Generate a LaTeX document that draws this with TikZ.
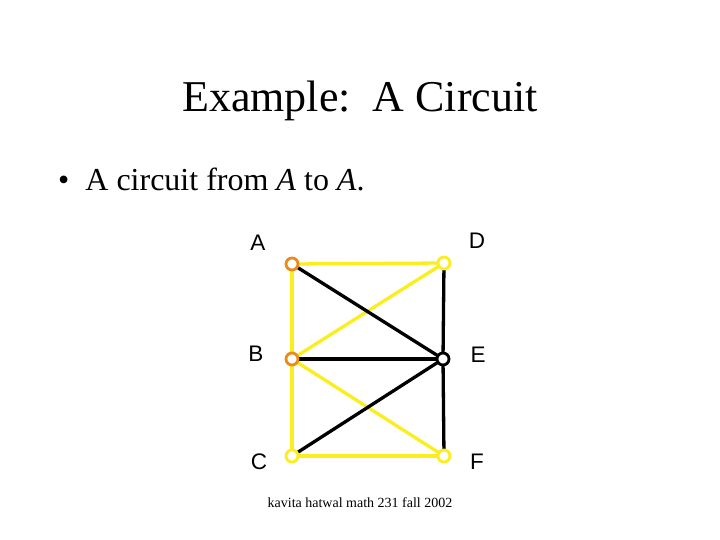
\documentclass[tikz,border=0pt]{standalone}
\usepackage{fontspec}
\setmainfont{Liberation Serif}
\newfontfamily\lblfont{Liberation Sans}
\definecolor{edgey}{RGB}{250,238,30}
\definecolor{vorange}{RGB}{232,140,30}
\begin{document}
\begin{tikzpicture}[x=1pt,y=-1pt,
  vert/.style={circle,draw,line width=2.8pt,minimum size=12pt,inner sep=0pt,fill=white},
  ye/.style={draw=edgey,line width=3.3pt},
  be/.style={draw=black,line width=3.3pt},
  lbl/.style={font=\lblfont\fontsize{22.5}{26}\selectfont,inner sep=0pt}]
\useasboundingbox (0,0) rectangle (720,540);
\node[font=\fontsize{44}{50}\selectfont,anchor=base] (title) at (360,112) {Example:\ \ A Circuit};
\node[font=\fontsize{32}{36}\selectfont,anchor=base west,inner sep=0pt] (bul) at (58,191) {\textbullet\ \ A circuit from \textit{A} to \textit{A}.};
\coordinate (pA) at (292,264);
\coordinate (pD) at (444,263);
\coordinate (pB) at (292,359);
\coordinate (pE) at (443,359);
\coordinate (pC) at (292,456);
\coordinate (pF) at (444,456);
\draw[ye] (pA) -- (pD);
\draw[ye] (pA) -- (pB);
\draw[ye] (pB) -- (pD);
\draw[ye] (pB) -- (pC);
\draw[ye] (pB) -- (pF);
\draw[ye] (pC) -- (pF);
\draw[be] (pA) -- (pE);
\draw[be] (pB) -- (pE);
\draw[be] (pC) -- (pE);
\draw[be] (pD) -- (pE);
\draw[be] (pE) -- (pF);
\node[vert,draw=vorange] (A) at (pA) {};
\node[vert,draw=edgey] (D) at (pD) {};
\node[vert,draw=vorange] (B) at (pB) {};
\node[vert,draw=black] (E) at (pE) {};
\node[vert,draw=edgey] (C) at (pC) {};
\node[vert,draw=edgey] (F) at (pF) {};
\node[lbl] (lA) at (258,243) {A};
\node[lbl] (lD) at (477,241) {D};
\node[lbl] (lB) at (256,354) {B};
\node[lbl] (lE) at (478,355) {E};
\node[lbl] (lC) at (259,462) {C};
\node[lbl] (lF) at (477,462) {F};
\node[font=\fontsize{14}{16}\selectfont,anchor=base] (foot) at (360,507) {kavita hatwal math 231 fall 2002};
\end{tikzpicture}
\end{document}
